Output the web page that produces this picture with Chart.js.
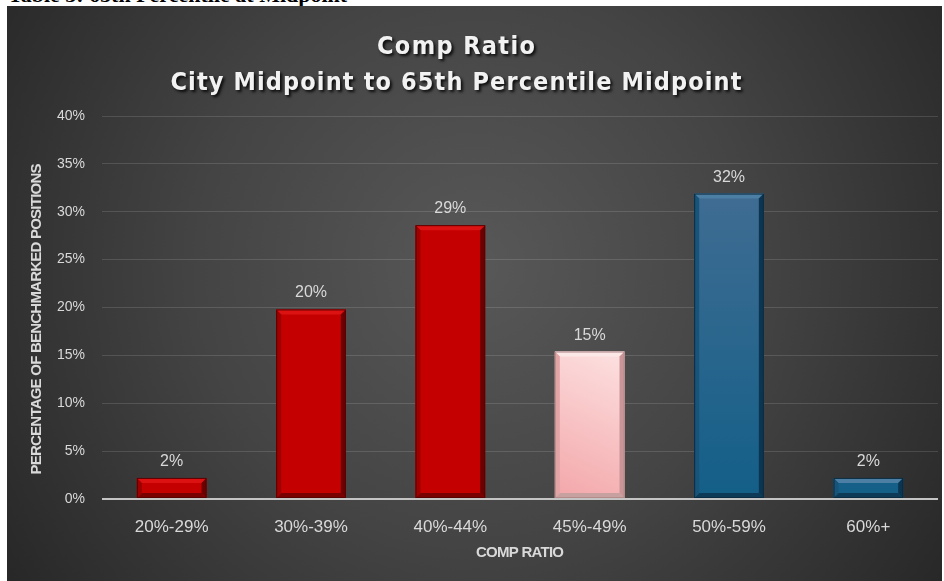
<!DOCTYPE html>
<html>
<head>
<meta charset="utf-8">
<script src="https://cdn.jsdelivr.net/npm/chart.js@4.4.1/dist/chart.umd.min.js"></script>
<style>
  html, body { margin:0; padding:0; background:#ffffff; width:944px; height:581px; overflow:hidden; }
  #cap { position:absolute; left:0; top:0; width:944px; height:6px; overflow:hidden; }
  #cap span { position:absolute; left:8px; top:-16px; font:bold 22px "Liberation Serif","DejaVu Serif",serif; color:#000; white-space:nowrap; line-height:22px; }
  #wrap { position:absolute; left:7px; top:6px; width:935px; height:575px; }
</style>
</head>
<body>
<div id="cap"><span>Table 3: 65th Percentile at Midpoint</span></div>
<div id="wrap"><canvas id="c" width="935" height="575"></canvas></div>
<script>
// ---- data ----
const titleLines = ['Comp Ratio', 'City Midpoint to 65th Percentile Midpoint'];
const categories = ['20%-29%', '30%-39%', '40%-44%', '45%-49%', '50%-59%', '60%+'];
const values = [2.2, 19.8, 28.6, 15.4, 31.9, 2.2];
const yTickMax = 40;
const yTickStep = 5;
const xAxisTitle = 'COMP RATIO';
const yAxisTitle = 'PERCENTAGE OF BENCHMARKED POSITIONS';

// ---- styles ----
const barKinds = ['red', 'red', 'red', 'pink', 'blue', 'blue'];
const palette = {
  red:  { face: ['#c40000', '#c40000'], top: '#dc1212', left: '#9c0000', right: '#6c0000', bottom: '#780000', border: '#5a0000' },
  pink: { face: ['#f3a6a9', '#fde1e1'], top: '#fde8e8', left: '#e3a4a6', right: '#c99597', bottom: '#c7a0a0', border: '#b48a8a' },
  blue: { face: ['#3f6c92', '#135f88'], top: '#4d7ea3', left: '#185378', right: '#0b3550', bottom: '#0d3a57', border: '#092c42' }
};
const FONT = '"Liberation Sans", Arial, sans-serif';

function fitText(ctx, text, cx, y, target) {
  ctx.letterSpacing = '0px';
  const w = ctx.measureText(text).width;
  const sp = text.length > 1 ? (target - w) / (text.length - 1) : 0;
  ctx.letterSpacing = sp + 'px';
  ctx.textAlign = 'left';
  ctx.fillText(text, cx - target / 2, y);
  ctx.letterSpacing = '0px';
}

const bgPlugin = {
  id: 'bg',
  beforeDraw(chart) {
    const { ctx, width, height } = chart;
    const g = ctx.createRadialGradient(470, 260, 0, 470, 260, 620);
    g.addColorStop(0, '#585858');
    g.addColorStop(0.45, '#444444');
    g.addColorStop(1, '#222222');
    ctx.save();
    ctx.fillStyle = g;
    ctx.fillRect(0, 0, width, height);
    ctx.restore();
  }
};

const decoPlugin = {
  id: 'deco',
  afterDatasetsDraw(chart) {
    const ctx = chart.ctx;
    const meta = chart.getDatasetMeta(0);
    ctx.save();
    meta.data.forEach((bar, i) => {
      const p = palette[barKinds[i]];
      const l = bar.x - bar.width / 2, r = bar.x + bar.width / 2;
      const t = bar.y, b = bar.base;
      const s = Math.min(5, (b - t) / 2);
      const poly = (pts, col) => {
        ctx.beginPath();
        ctx.moveTo(pts[0][0], pts[0][1]);
        for (let k = 1; k < pts.length; k++) ctx.lineTo(pts[k][0], pts[k][1]);
        ctx.closePath();
        ctx.fillStyle = col;
        ctx.fill();
      };
      poly([[l, t], [r, t], [r - s, t + s], [l + s, t + s]], p.top);
      poly([[l, b], [r, b], [r - s, b - s], [l + s, b - s]], p.bottom);
      poly([[l, t], [l + s, t + s], [l + s, b - s], [l, b]], p.left);
      poly([[r, t], [r - s, t + s], [r - s, b - s], [r, b]], p.right);
      ctx.strokeStyle = p.border;
      ctx.lineWidth = 1;
      ctx.strokeRect(l + 0.5, t + 0.5, r - l - 1, b - t - 1);
      ctx.fillStyle = '#d9d9d9';
      ctx.font = '16px ' + FONT;
      ctx.textAlign = 'center';
      ctx.textBaseline = 'alphabetic';
      ctx.fillText(Math.round(values[i]) + '%', bar.x, t - 12);
    });
    ctx.restore();
  },
  afterDraw(chart) {
    const ctx = chart.ctx;
    ctx.save();
    ctx.fillStyle = '#f2f2f2';
    ctx.shadowColor = 'rgba(0,0,0,0.85)';
    ctx.shadowOffsetX = 2;
    ctx.shadowOffsetY = 2;
    ctx.shadowBlur = 3;
    ctx.font = 'bold 25px "DejaVu Sans Condensed", "DejaVu Sans", sans-serif';
    ctx.textBaseline = 'alphabetic';
    fitText(ctx, titleLines[0], 449, 48, 158);
    fitText(ctx, titleLines[1], 449, 84, 571);
    ctx.restore();
    ctx.save();
    ctx.fillStyle = '#d9d9d9';
    ctx.font = 'bold 15px ' + FONT;
    ctx.textBaseline = 'middle';
    fitText(ctx, xAxisTitle, 513, 547, 88);
    ctx.translate(30, 313);
    ctx.rotate(-Math.PI / 2);
    fitText(ctx, yAxisTitle, 0, 0, 311);
    ctx.restore();
  }
};

function faceColor(c) {
  const chart = c.chart;
  const area = chart.chartArea;
  const kind = barKinds[c.dataIndex];
  const p = palette[kind];
  if (!area || !chart.scales.x || !chart.scales.y) return p.face[0];
  const xs = chart.scales.x, ys = chart.scales.y;
  const cx = xs.getPixelForValue(c.dataIndex);
  const top = ys.getPixelForValue(values[c.dataIndex]);
  const base = ys.getPixelForValue(0);
  if (![cx, top, base].every(Number.isFinite)) return p.face[0];
  let g;
  if (kind === 'pink') {
    g = chart.ctx.createLinearGradient(cx - 35, base, cx + 35, top);
  } else {
    g = chart.ctx.createLinearGradient(0, area.top + 80, 0, area.bottom);
  }
  g.addColorStop(0, p.face[0]);
  g.addColorStop(1, p.face[1]);
  return g;
}

new Chart(document.getElementById('c'), {
  type: 'bar',
  data: {
    labels: categories,
    datasets: [{
      data: values,
      barPercentage: 0.5,
      categoryPercentage: 1,
      borderWidth: 0,
      backgroundColor: faceColor
    }]
  },
  options: {
    responsive: false,
    animation: false,
    layout: { padding: { left: 0, right: 4, top: 110, bottom: 0 } },
    plugins: { legend: { display: false }, title: { display: false }, tooltip: { enabled: false } },
    scales: {
      x: {
        grid: { display: false },
        border: { display: false },
        ticks: { color: '#d9d9d9', font: { family: FONT, size: 17 }, padding: 10 },
        afterFit(s) { s.height = 82; }
      },
      y: {
        min: 0,
        max: yTickMax,
        grid: {
          drawTicks: false,
          color(c) { return c.tick && c.tick.value === 0 ? '#c4c4c4' : 'rgba(255,255,255,0.13)'; },
          lineWidth(c) { return c.tick && c.tick.value === 0 ? 2 : 1; }
        },
        border: { display: false },
        ticks: {
          stepSize: yTickStep,
          color: '#d9d9d9',
          font: { family: FONT, size: 14 },
          padding: 17,
          callback: v => v + '%'
        },
        afterFit(s) { s.width = 95; }
      }
    }
  },
  plugins: [bgPlugin, decoPlugin]
});
</script>
</body>
</html>
